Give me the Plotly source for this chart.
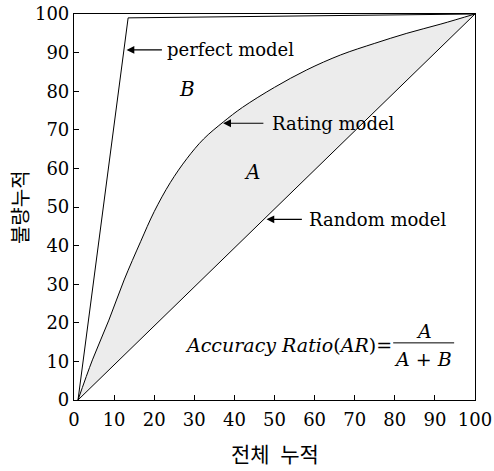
import plotly.graph_objects as go

# Cumulative accuracy profile (CAP) curves
perfect_x = [1, 13.5, 100]
perfect_y = [0, 99, 100]

random_x = [1, 100]
random_y = [0, 100]

rating_x = [1, 4.6, 8.7, 12.5, 16.6, 20, 24, 28.2, 32.3, 37.2, 42, 50, 58, 66.5, 75, 83, 91.5, 100]
rating_y = [0, 10.4, 20.7, 31.1, 41, 48.8, 56.3, 62.6, 67.6, 72, 75.8, 81, 85.5, 89.4, 92.4, 95, 97.4, 100]

tick_vals = [0, 10, 20, 30, 40, 50, 60, 70, 80, 90, 100]

SERIF = "DejaVu Serif"
CJK = "Noto Sans CJK KR"

fig = go.Figure()

fig.add_trace(go.Scatter(x=random_x, y=random_y, mode="lines",
                         line=dict(color="black", width=1), showlegend=False))
# Area A: filled from the rating model down to the random model
fig.add_trace(go.Scatter(x=rating_x, y=rating_y, mode="lines",
                         fill="tonexty", fillcolor="#ececec",
                         line=dict(color="black", width=1, shape="spline", smoothing=1.0),
                         showlegend=False))
fig.add_trace(go.Scatter(x=perfect_x, y=perfect_y, mode="lines",
                         line=dict(color="black", width=1), showlegend=False))

annotations = []

# Arrows pointing at each curve, with their labels
arrows = [
    ("perfect model", 13.1, 90.7, 22.3, 22.8),
    ("Rating model", 37.2, 71.7, 47.6, 48.9),
    ("Random model", 48.0, 46.8, 57.2, 58.0),
]
for label, tip_x, tip_y, tail_x, text_x in arrows:
    annotations.append(dict(
        x=tip_x, y=tip_y, ax=tail_x, ay=tip_y, xref="x", yref="y",
        axref="x", ayref="y", text="", showarrow=True,
        arrowhead=2, arrowsize=1.3, arrowwidth=1.2, arrowcolor="black",
    ))
    annotations.append(dict(
        x=text_x, y=tip_y, xref="x", yref="y", text=label, showarrow=False,
        xanchor="left", yanchor="middle",
        font=dict(family=SERIF, size=18, color="black"),
    ))

# Region labels
annotations.append(dict(x=28.1, y=80.5, text="<i>B</i>", showarrow=False,
                        font=dict(family=SERIF, size=20, color="black")))
annotations.append(dict(x=44.3, y=59.1, text="<i>A</i>", showarrow=False,
                        font=dict(family=SERIF, size=20, color="black")))

# Accuracy ratio formula
annotations.append(dict(x=27.2, y=14.2, text="<i>Accuracy Ratio</i>(<i>AR</i>)=",
                        showarrow=False, xanchor="left", yanchor="middle",
                        font=dict(family=SERIF, size=19, color="black")))
annotations.append(dict(x=87.3, y=18.0, text="<i>A</i>", showarrow=False,
                        xanchor="center", yanchor="middle",
                        font=dict(family=SERIF, size=19, color="black")))
annotations.append(dict(x=87.0, y=10.6, text="<i>A</i> + <i>B</i>", showarrow=False,
                        xanchor="center", yanchor="middle",
                        font=dict(family=SERIF, size=19, color="black")))

fig.add_shape(type="line", x0=79.6, x1=94.8, y0=14.8, y1=14.8, xref="x", yref="y",
              line=dict(color="black", width=1))

# Axis titles
annotations.append(dict(x=0.5, y=-0.092, xref="paper", yref="paper",
                        text="전체\u2002누적", showarrow=False,
                        xanchor="center", yanchor="top",
                        font=dict(family=CJK, size=21, color="black")))
annotations.append(dict(x=-0.137, y=0.5, xref="paper", yref="paper",
                        text="불량누적", showarrow=False, textangle=-90,
                        xanchor="center", yanchor="middle",
                        font=dict(family=CJK, size=20, color="black")))

fig.update_layout(
    width=494, height=471,
    margin=dict(l=74, r=19, t=14, b=71),
    paper_bgcolor="white", plot_bgcolor="white",
    annotations=annotations,
    xaxis=dict(
        range=[0, 100], tickvals=tick_vals, showgrid=False, zeroline=False,
        showline=True, linecolor="black", linewidth=1.2, mirror=True,
        ticks="inside", ticklen=5, tickcolor="black", tickwidth=1,
        tickfont=dict(family=SERIF, size=18, color="black"),
        ticklabelstandoff=3, automargin=False,
    ),
    yaxis=dict(
        range=[0, 100], tickvals=tick_vals, showgrid=False, zeroline=False,
        showline=True, linecolor="black", linewidth=1.2, mirror=True,
        ticks="inside", ticklen=5, tickcolor="black", tickwidth=1,
        tickfont=dict(family=SERIF, size=18, color="black"),
        automargin=False,
    ),
)

fig.write_html("out.html")
